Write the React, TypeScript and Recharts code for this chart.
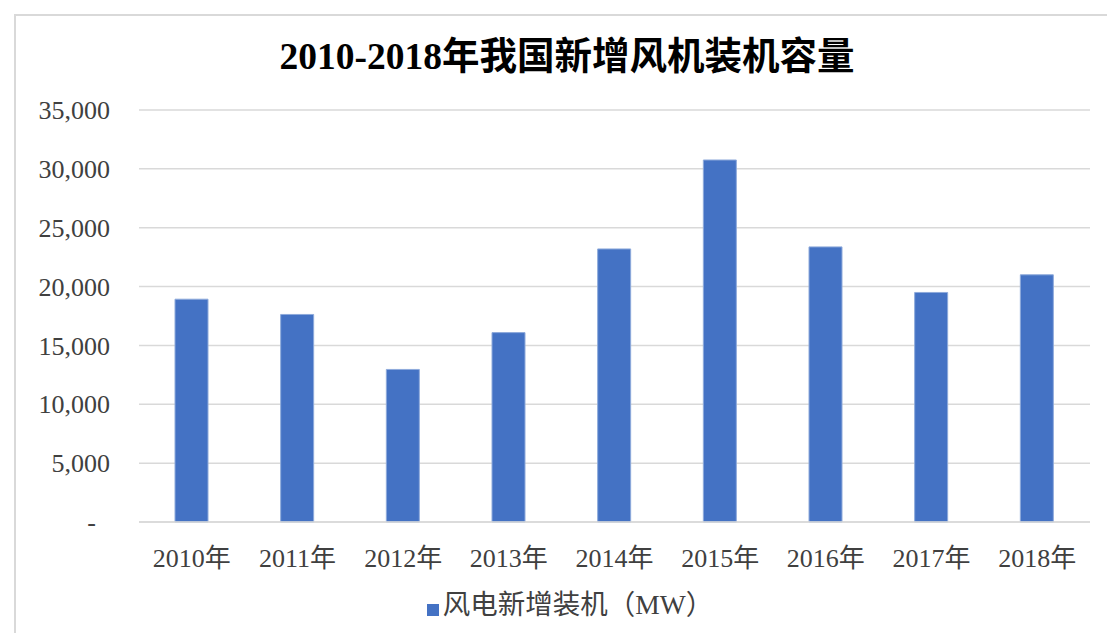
import React from 'react';
import { BarChart, Bar, XAxis, YAxis, CartesianGrid, Legend } from 'recharts';

const years = ['2010年', '2011年', '2012年', '2013年', '2014年', '2015年', '2016年', '2017年', '2018年'];
const newCapacity = [18928, 17631, 12960, 16088, 23196, 30753, 23370, 19500, 21000];
const yTicks = [0, 5000, 10000, 15000, 20000, 25000, 30000, 35000];

const seriesName = '风电新增装机（MW）';
const chartTitle = '2010-2018年我国新增风机装机容量';

const data = years.map((year, i) => ({ year, value: newCapacity[i] }));

const FONT = "'Liberation Serif', 'Times New Roman', 'Noto Sans CJK SC', serif";
const TEXT = '#404040';

const formatY = (v: number) => (v === 0 ? '-' : v.toLocaleString('en-US'));

const YTick = (props: any) => {
    const { x, y, payload } = props;
    const isZero = payload.value === 0;
    return (
        <text
            x={isZero ? x - 14 : x}
            y={y}
            dy="0.35em"
            textAnchor="end"
            fill={TEXT}
            fontSize={26}
            fontFamily={FONT}
        >
            {formatY(payload.value)}
        </text>
    );
};

const App: React.FC = () => {
    return (
        <div style={{ position: 'relative', width: 1107, height: 633, background: '#fff' }}>
            <style>{'body{margin:0}'}</style>
            <div
                style={{
                    position: 'absolute',
                    left: 14,
                    top: 14,
                    right: 0,
                    bottom: 0,
                    borderTop: '2px solid #d9d9d9',
                    borderLeft: '2px solid #d9d9d9',
                }}
            />
            <div
                style={{
                    position: 'absolute',
                    left: 0,
                    width: 1134,
                    top: 37,
                    lineHeight: '40px',
                    textAlign: 'center',
                    fontFamily: FONT,
                    fontWeight: 'bold',
                    fontSize: 37.5,
                    color: '#000',
                }}
            >
                {chartTitle}
            </div>
            <BarChart
                width={1107}
                height={633}
                data={data}
                margin={{ top: 110, right: 17, left: 0, bottom: 10 }}
                style={{ position: 'absolute', left: 0, top: 0 }}
            >
                <CartesianGrid vertical={false} stroke="#d9d9d9" strokeWidth={1.5} />
                <XAxis
                    dataKey="year"
                    axisLine={{ stroke: '#d9d9d9', strokeWidth: 1.5 }}
                    tickLine={false}
                    tickMargin={21}
                    height={55}
                    tick={{ fill: TEXT, fontSize: 26, fontFamily: FONT }}
                    interval={0}
                />
                <YAxis
                    width={139}
                    domain={[0, 35000]}
                    ticks={yTicks}
                    axisLine={false}
                    tickLine={false}
                    tickMargin={23}
                    tick={<YTick />}
                />
                <Legend
                    verticalAlign="bottom"
                    iconType="square"
                    iconSize={12}
                    height={46}
                    wrapperStyle={{ top: 590, left: 30 }}
                    formatter={(value: string) => (
                        <span style={{ color: TEXT, fontSize: 27.5, fontFamily: FONT, lineHeight: '30px' }}>{value}</span>
                    )}
                />
                <Bar dataKey="value" name={seriesName} fill="#4472C4" stroke="#8eaadb" strokeWidth={1} barSize={33} isAnimationActive={false} />
            </BarChart>
        </div>
    );
};

export default App;
